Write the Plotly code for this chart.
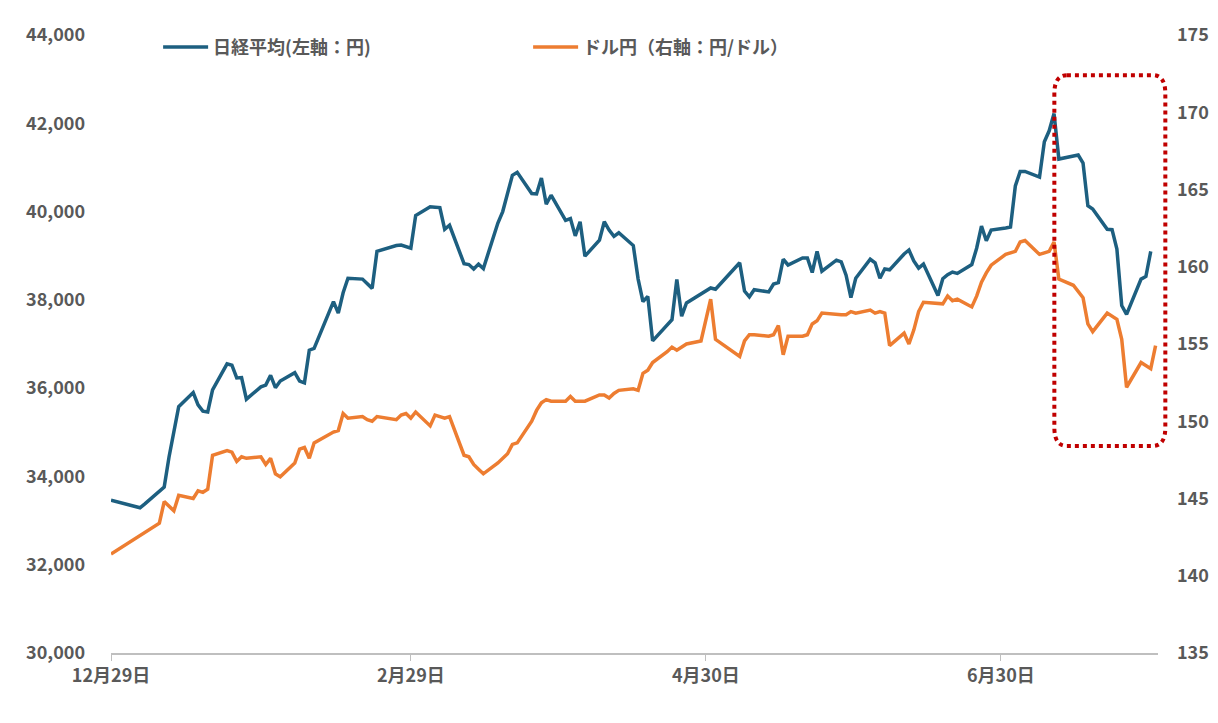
import plotly.graph_objects as go

nk_dates = ["2023-12-29","2024-01-04","2024-01-05","2024-01-09","2024-01-10","2024-01-11","2024-01-12","2024-01-15","2024-01-16","2024-01-17","2024-01-18","2024-01-19","2024-01-22","2024-01-23","2024-01-24","2024-01-25","2024-01-26","2024-01-29","2024-01-30","2024-01-31","2024-02-01","2024-02-02","2024-02-05","2024-02-06","2024-02-07","2024-02-08","2024-02-09","2024-02-13","2024-02-14","2024-02-15","2024-02-16","2024-02-19","2024-02-20","2024-02-21","2024-02-22","2024-02-26","2024-02-27","2024-02-28","2024-02-29","2024-03-01","2024-03-04","2024-03-05","2024-03-06","2024-03-07","2024-03-08","2024-03-11","2024-03-12","2024-03-13","2024-03-14","2024-03-15","2024-03-18","2024-03-19","2024-03-21","2024-03-22","2024-03-25","2024-03-26","2024-03-27","2024-03-28","2024-03-29","2024-04-01","2024-04-02","2024-04-03","2024-04-04","2024-04-05","2024-04-08","2024-04-09","2024-04-10","2024-04-11","2024-04-12","2024-04-15","2024-04-16","2024-04-17","2024-04-18","2024-04-19","2024-04-22","2024-04-23","2024-04-24","2024-04-25","2024-04-26","2024-05-01","2024-05-02","2024-05-07","2024-05-08","2024-05-09","2024-05-10","2024-05-13","2024-05-14","2024-05-15","2024-05-16","2024-05-17","2024-05-20","2024-05-21","2024-05-22","2024-05-23","2024-05-24","2024-05-27","2024-05-28","2024-05-29","2024-05-30","2024-05-31","2024-06-03","2024-06-04","2024-06-05","2024-06-06","2024-06-07","2024-06-10","2024-06-11","2024-06-12","2024-06-13","2024-06-14","2024-06-17","2024-06-18","2024-06-19","2024-06-20","2024-06-21","2024-06-24","2024-06-25","2024-06-26","2024-06-27","2024-06-28","2024-07-01","2024-07-02","2024-07-03","2024-07-04","2024-07-05","2024-07-08","2024-07-09","2024-07-10","2024-07-11","2024-07-12","2024-07-16","2024-07-17","2024-07-18","2024-07-19","2024-07-22","2024-07-23","2024-07-24","2024-07-25","2024-07-26","2024-07-29","2024-07-30","2024-07-31"]
nikkei = [33460,33290,33380,33760,34440,35050,35580,35900,35620,35480,35460,35960,36550,36520,36230,36240,35750,36030,36070,36290,36010,36160,36350,36160,36120,36860,36900,37960,37700,38160,38490,38470,38360,38260,39100,39230,39240,39210,39170,39910,40110,40100,40090,39600,39690,38820,38800,38700,38810,38710,39740,40000,40820,40890,40410,40400,40760,40170,40370,39800,39840,39450,39770,38990,39350,39770,39580,39440,39520,39230,38470,37960,38080,37070,37440,37550,38460,37630,37930,38270,38240,38840,38200,38070,38230,38180,38360,38390,38920,38790,38950,38950,38620,39100,38650,38900,38860,38560,38050,38490,38920,38840,38490,38700,38680,39040,39130,38880,38720,38810,38100,38480,38570,38630,38600,38800,39170,39670,39340,39580,39630,39650,40580,40910,40910,40780,41580,41830,42220,41190,41280,41100,40130,40060,39600,39590,39150,37870,37670,38470,38530,39100]

fx_dates = ["2023-12-29","2024-01-08","2024-01-09","2024-01-10","2024-01-11","2024-01-12","2024-01-15","2024-01-16","2024-01-17","2024-01-18","2024-01-19","2024-01-22","2024-01-23","2024-01-24","2024-01-25","2024-01-26","2024-01-29","2024-01-30","2024-01-31","2024-02-01","2024-02-02","2024-02-05","2024-02-06","2024-02-07","2024-02-08","2024-02-09","2024-02-13","2024-02-14","2024-02-15","2024-02-16","2024-02-19","2024-02-20","2024-02-21","2024-02-22","2024-02-26","2024-02-27","2024-02-28","2024-02-29","2024-03-01","2024-03-04","2024-03-05","2024-03-06","2024-03-07","2024-03-08","2024-03-11","2024-03-12","2024-03-13","2024-03-14","2024-03-15","2024-03-18","2024-03-19","2024-03-20","2024-03-21","2024-03-22","2024-03-25","2024-03-26","2024-03-27","2024-03-28","2024-03-29","2024-04-01","2024-04-02","2024-04-03","2024-04-04","2024-04-05","2024-04-08","2024-04-09","2024-04-10","2024-04-11","2024-04-12","2024-04-15","2024-04-16","2024-04-17","2024-04-18","2024-04-19","2024-04-22","2024-04-23","2024-04-24","2024-04-25","2024-04-26","2024-04-29","2024-04-30","2024-05-01","2024-05-02","2024-05-07","2024-05-08","2024-05-09","2024-05-10","2024-05-13","2024-05-14","2024-05-15","2024-05-16","2024-05-17","2024-05-20","2024-05-21","2024-05-22","2024-05-23","2024-05-24","2024-05-27","2024-05-28","2024-05-29","2024-05-30","2024-05-31","2024-06-03","2024-06-04","2024-06-05","2024-06-06","2024-06-07","2024-06-10","2024-06-11","2024-06-12","2024-06-13","2024-06-14","2024-06-17","2024-06-18","2024-06-19","2024-06-20","2024-06-21","2024-06-24","2024-06-25","2024-06-26","2024-06-27","2024-06-28","2024-07-01","2024-07-02","2024-07-03","2024-07-04","2024-07-05","2024-07-08","2024-07-09","2024-07-10","2024-07-11","2024-07-12","2024-07-15","2024-07-16","2024-07-17","2024-07-18","2024-07-19","2024-07-22","2024-07-23","2024-07-24","2024-07-25","2024-07-26","2024-07-29","2024-07-30","2024-07-31","2024-08-01"]
usdjpy = [141.4,143.4,144.8,144.5,144.2,145.2,145.0,145.5,145.4,145.6,147.8,148.1,148.0,147.4,147.7,147.6,147.7,147.2,147.6,146.6,146.4,147.3,148.2,148.3,147.6,148.6,149.3,149.4,150.5,150.2,150.3,150.1,150.0,150.3,150.1,150.4,150.5,150.2,150.6,149.7,150.4,150.3,150.2,150.3,147.8,147.7,147.2,146.9,146.6,147.3,147.6,147.9,148.5,148.6,150.0,150.7,151.2,151.4,151.3,151.3,151.6,151.3,151.3,151.3,151.7,151.7,151.5,151.8,152.0,152.1,152.0,153.1,153.3,153.8,154.5,154.8,154.6,154.8,155.0,155.2,156.5,157.9,155.3,154.2,155.2,155.6,155.6,155.5,155.6,156.2,154.3,155.5,155.5,155.6,156.3,156.5,157.0,156.9,156.9,156.9,157.1,157.0,157.2,157.0,157.1,157.0,154.9,155.7,155.0,155.9,157.1,157.7,157.6,157.6,158.1,157.8,157.9,157.4,158.1,159.0,159.6,160.1,160.8,160.9,161.0,161.6,161.7,160.8,160.9,161.0,161.6,159.2,158.8,158.4,158.0,156.3,155.8,157.0,156.8,156.6,155.3,152.2,153.8,153.6,153.4,154.9,150.9]

tick_vals = ["2023-12-29","2024-02-29","2024-04-30","2024-06-30"]
tick_text = ["12月29日","2月29日","4月30日","6月30日"]

font = dict(family="Noto Sans CJK JP", size=18, color="#595959", weight="bold")
fig = go.Figure()
fig.add_trace(go.Scatter(x=nk_dates, y=nikkei, name="日経平均(左軸：円)", mode="lines",
                         line=dict(color="#1D5F80", width=3.5)))
fig.add_trace(go.Scatter(x=fx_dates, y=usdjpy, name="ドル円（右軸：円/ドル）", mode="lines",
                         line=dict(color="#ED7D31", width=3.5), yaxis="y2"))
# rounded dotted highlight box (paper coordinates so it is not clipped)
x0, x1, y0, y1, rx, ry = 0.901, 1.007, 0.335, 0.935, 0.012, 0.03
fig.add_shape(type="path", xref="paper", yref="paper",
              path=(f"M {x0+rx},{y1} L {x1-rx},{y1} Q {x1},{y1} {x1},{y1-ry} "
                    f"L {x1},{y0+ry} Q {x1},{y0} {x1-rx},{y0} L {x0+rx},{y0} "
                    f"Q {x0},{y0} {x0},{y0+ry} L {x0},{y1-ry} Q {x0},{y1} {x0+rx},{y1} Z"),
              line=dict(color="#C00000", width=4, dash="dot"))
fig.update_layout(
    width=1218, height=723, margin=dict(l=103, r=68, t=25, b=78),
    plot_bgcolor="white", paper_bgcolor="white", font=font,
    showlegend=True,
    legend=dict(orientation="h", x=0.045, y=1.01, xanchor="left", yanchor="top",
                bgcolor="rgba(0,0,0,0)", font=font, itemwidth=45, entrywidth=310),
    xaxis=dict(type="date", range=["2023-12-29","2024-08-01T12:00"], tickvals=tick_vals, ticktext=tick_text,
               showgrid=False, showline=True, linecolor="#BFBFBF", linewidth=1.5,
               ticks="outside", tickcolor="#BFBFBF", ticklen=6, zeroline=False),
    yaxis=dict(range=[30000,44000], dtick=2000, tickformat=",", showgrid=False, zeroline=False,
               ticks="", ticklabelstandoff=25),
    yaxis2=dict(range=[135,175], dtick=5, overlaying="y", side="right", showgrid=False,
                zeroline=False, ticklabelstandoff=18),
)
fig.write_html("out.html")
